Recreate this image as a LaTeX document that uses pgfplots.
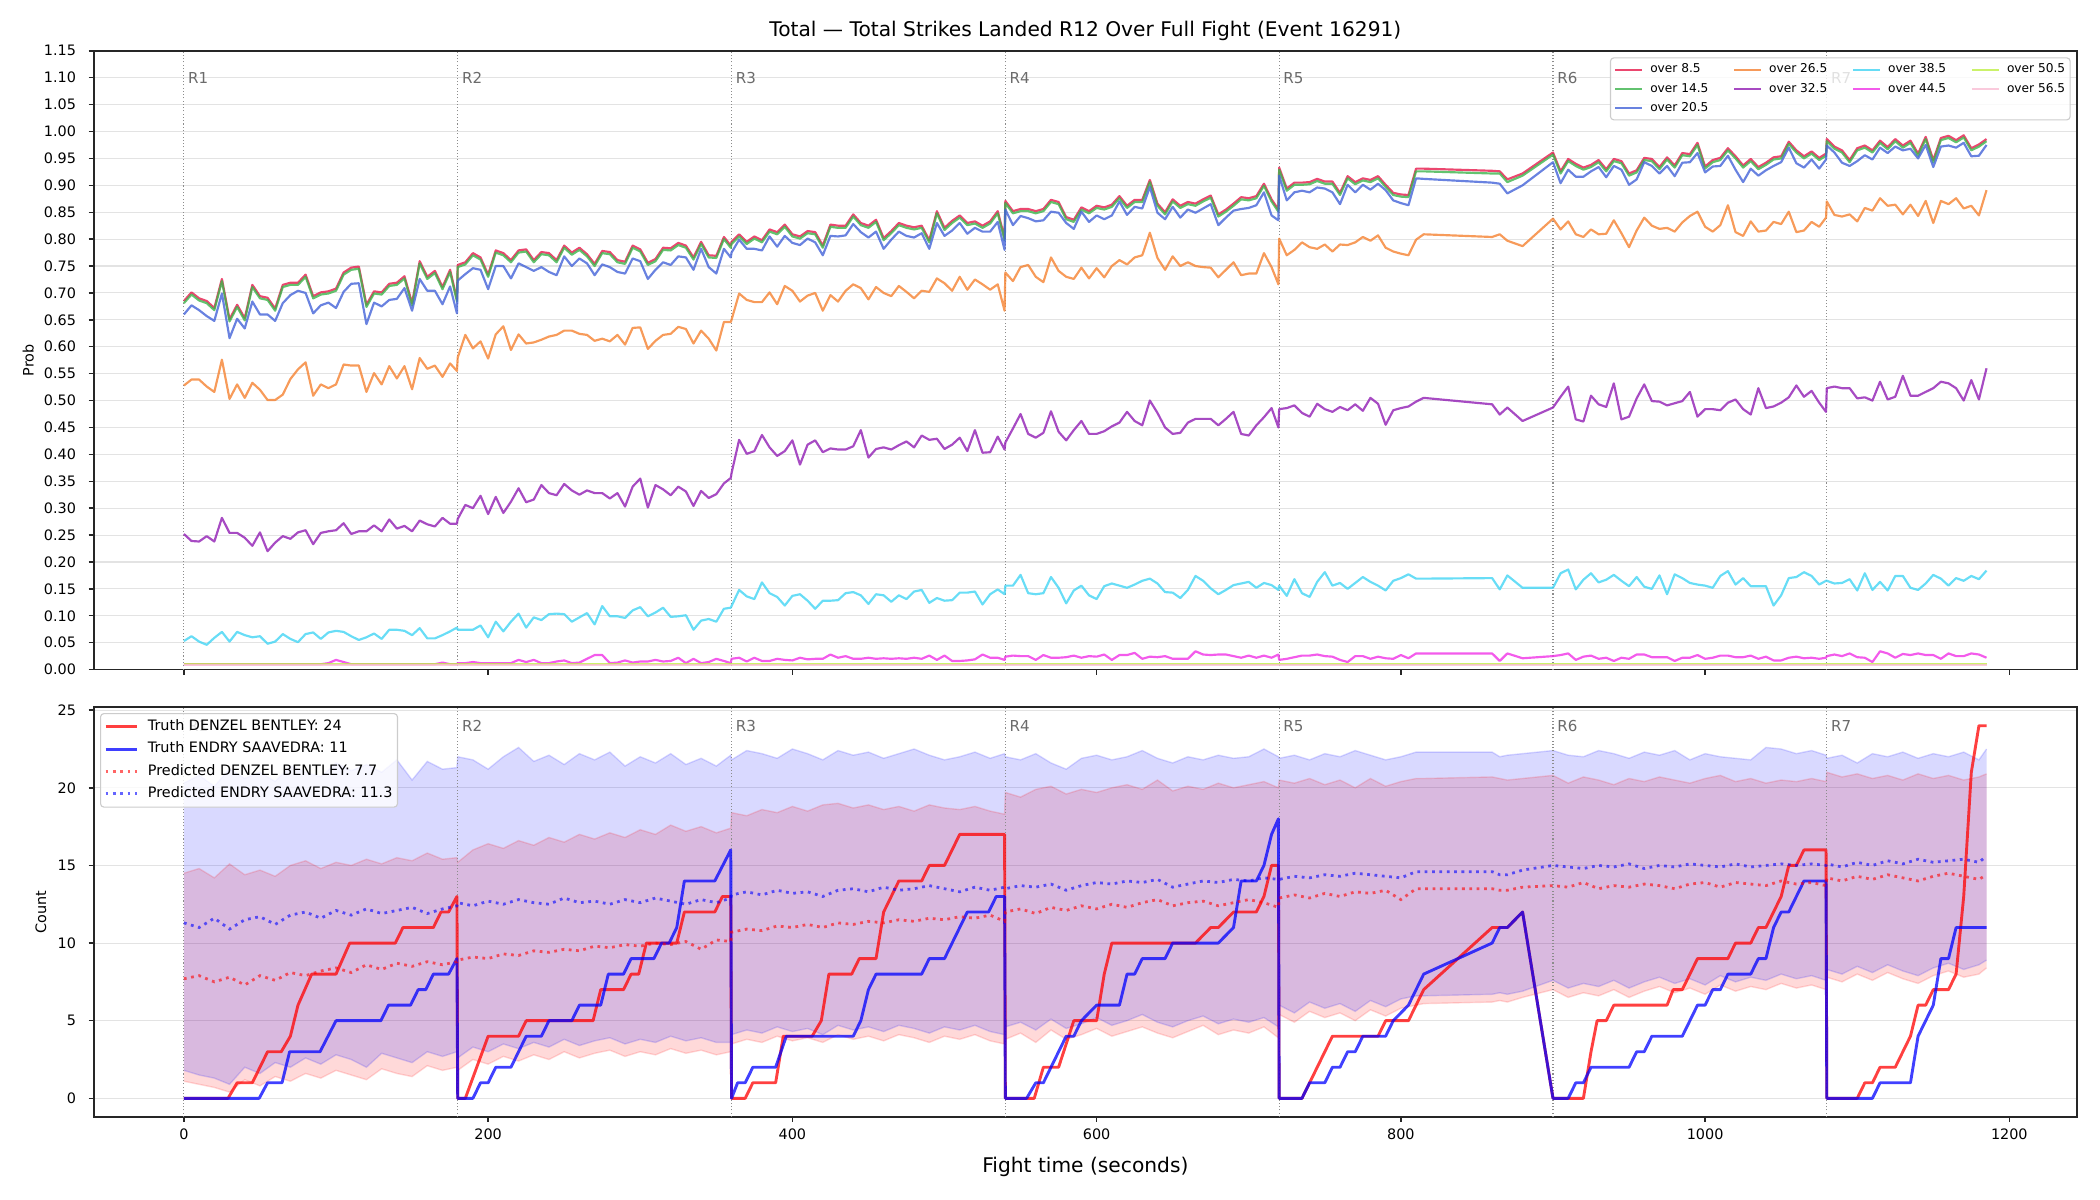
\documentclass[border=0pt]{standalone}
\usepackage{fontspec}
\setmainfont{DejaVu Sans}
\usepackage{pgfplots}
\pgfplotsset{compat=1.18}
\usepackage{pgfplotstable}
\usepgfplotslibrary{fillbetween}

\definecolor{c85}{HTML}{E6194B}
\definecolor{c145}{HTML}{3CB44B}
\definecolor{c205}{HTML}{4363D8}
\definecolor{c265}{HTML}{F58231}
\definecolor{c325}{HTML}{911EB4}
\definecolor{c385}{HTML}{42D4F4}
\definecolor{c445}{HTML}{F032E6}
\definecolor{c505}{HTML}{BFEF45}
\definecolor{c565}{HTML}{FABED4}
\definecolor{tred}{HTML}{FF0000}
\definecolor{tblue}{HTML}{0000FF}
\definecolor{spine}{HTML}{262626}
\definecolor{gridc}{HTML}{E3E3E3}
\definecolor{rlab}{HTML}{6B6B6B}

% probability of each "over" line, sampled every 5 s
% a=8.5 b=14.5 c=20.5 d=26.5 e=32.5 f=38.5 g=44.5
\pgfplotstableread{
t a b c d e f g
0 .685 .681 .660 .528 .252 .053 .010
5 .701 .697 .677 .539 .239 .062 .010
10 .690 .686 .668 .539 .238 .052 .010
15 .685 .681 .657 .526 .248 .046 .010
20 .672 .668 .648 .516 .238 .059 .010
25 .726 .722 .699 .576 .282 .070 .010
30 .651 .647 .616 .503 .254 .052 .010
35 .678 .674 .652 .530 .254 .070 .010
40 .653 .649 .634 .505 .245 .064 .010
45 .715 .711 .684 .533 .230 .060 .010
50 .694 .690 .660 .520 .255 .062 .010
55 .691 .687 .660 .501 .220 .048 .010
60 .671 .667 .648 .501 .236 .052 .010
65 .715 .711 .681 .511 .248 .066 .010
70 .719 .715 .696 .540 .243 .057 .010
75 .719 .715 .704 .558 .255 .051 .010
80 .734 .730 .700 .571 .259 .066 .010
85 .694 .690 .662 .509 .233 .069 .010
90 .701 .697 .677 .530 .254 .057 .010
95 .703 .699 .682 .523 .257 .069 .012
100 .708 .704 .672 .530 .259 .072 .018
105 .738 .734 .702 .567 .272 .070 .014
110 .747 .743 .717 .565 .252 .062 .010
115 .749 .745 .718 .565 .257 .055 .010
120 .678 .674 .642 .516 .257 .060 .010
125 .703 .699 .682 .551 .268 .067 .010
130 .701 .697 .675 .530 .257 .057 .010
135 .717 .713 .687 .564 .279 .074 .010
140 .719 .715 .689 .541 .262 .074 .010
145 .731 .727 .709 .564 .267 .072 .010
150 .681 .677 .667 .521 .257 .064 .010
155 .759 .755 .726 .579 .277 .077 .010
160 .730 .726 .704 .559 .270 .058 .010
165 .741 .737 .704 .565 .266 .058 .010
170 .711 .707 .679 .544 .282 .064 .013
175 .743 .739 .712 .569 .271 .071 .010
179.5 .688 .684 .662 .555 .271 .078 .010
180 .752 .748 .723 .580 .280 .074 .012
185 .757 .753 .735 .622 .306 .074 .012
190 .774 .770 .746 .597 .300 .074 .014
195 .766 .762 .743 .610 .323 .082 .012
200 .734 .730 .707 .578 .289 .060 .012
205 .779 .775 .750 .623 .321 .089 .012
210 .774 .770 .750 .638 .291 .071 .012
215 .761 .757 .727 .594 .312 .089 .012
220 .779 .775 .755 .623 .337 .104 .018
225 .781 .777 .748 .606 .311 .078 .014
230 .761 .757 .741 .608 .316 .097 .018
235 .776 .772 .748 .613 .343 .092 .012
240 .774 .770 .739 .619 .328 .103 .012
245 .761 .757 .733 .622 .324 .104 .015
250 .788 .784 .768 .630 .345 .103 .017
255 .775 .771 .750 .630 .333 .089 .012
260 .784 .780 .764 .624 .325 .097 .013
265 .772 .768 .755 .622 .333 .105 .020
270 .754 .750 .733 .611 .328 .084 .027
275 .778 .774 .753 .615 .328 .118 .027
280 .776 .772 .748 .610 .318 .099 .012
285 .761 .757 .739 .622 .328 .099 .013
290 .758 .754 .736 .604 .303 .096 .017
295 .788 .784 .764 .635 .340 .110 .013
300 .781 .777 .759 .636 .355 .116 .015
305 .756 .752 .726 .596 .301 .099 .015
310 .763 .759 .743 .611 .343 .106 .018
315 .784 .780 .757 .622 .335 .115 .015
320 .783 .779 .752 .624 .324 .098 .016
325 .793 .789 .768 .637 .340 .099 .022
330 .788 .784 .766 .633 .331 .101 .012
335 .766 .762 .743 .606 .304 .074 .020
340 .795 .791 .782 .630 .332 .091 .012
345 .770 .766 .748 .615 .319 .094 .014
350 .769 .765 .736 .593 .326 .089 .020
355 .804 .800 .782 .646 .346 .113 .016
359.5 .788 .784 .766 .646 .356 .115 .012
360 .795 .791 .775 .650 .365 .118 .020
365 .809 .805 .799 .699 .427 .148 .022
370 .795 .791 .782 .687 .401 .136 .015
375 .805 .801 .782 .683 .406 .131 .022
380 .798 .794 .779 .683 .436 .162 .016
385 .818 .814 .805 .701 .413 .142 .016
390 .813 .809 .786 .679 .397 .135 .020
395 .827 .823 .806 .713 .406 .119 .018
400 .809 .805 .793 .704 .426 .137 .017
405 .805 .801 .789 .684 .381 .140 .022
410 .815 .811 .801 .695 .418 .128 .019
415 .813 .809 .794 .700 .426 .113 .020
420 .788 .784 .770 .667 .404 .128 .020
425 .827 .823 .806 .696 .411 .128 .028
430 .825 .821 .805 .684 .409 .129 .022
435 .825 .821 .807 .704 .409 .142 .025
440 .846 .842 .828 .716 .415 .144 .020
445 .830 .826 .813 .709 .445 .138 .020
450 .825 .821 .803 .688 .394 .122 .022
455 .836 .832 .814 .711 .410 .140 .020
460 .802 .798 .782 .700 .413 .138 .021
465 .815 .811 .799 .694 .409 .126 .020
470 .830 .826 .814 .713 .417 .138 .021
475 .825 .821 .806 .702 .424 .131 .020
480 .822 .818 .803 .690 .413 .145 .022
485 .825 .821 .811 .704 .435 .148 .020
490 .798 .794 .782 .702 .427 .124 .026
495 .852 .848 .830 .727 .429 .133 .018
500 .821 .817 .806 .718 .410 .128 .026
505 .834 .830 .816 .704 .418 .129 .016
510 .844 .840 .830 .730 .431 .143 .016
515 .830 .826 .810 .706 .406 .143 .017
520 .833 .829 .821 .725 .445 .145 .019
525 .825 .821 .814 .716 .403 .121 .028
530 .833 .829 .814 .706 .404 .140 .022
535 .852 .848 .832 .716 .433 .149 .022
539.5 .802 .798 .780 .667 .409 .140 .018
540 .871 .867 .855 .738 .422 .156 .024
545 .852 .848 .826 .722 .448 .156 .026
550 .856 .852 .843 .748 .475 .176 .025
555 .856 .852 .839 .752 .438 .142 .025
560 .852 .848 .833 .730 .431 .140 .018
565 .856 .852 .835 .720 .440 .142 .027
570 .873 .869 .851 .766 .480 .172 .022
575 .869 .865 .849 .741 .442 .152 .022
580 .841 .837 .830 .730 .426 .123 .023
585 .836 .832 .819 .726 .445 .147 .026
590 .859 .855 .851 .747 .462 .156 .022
595 .852 .848 .832 .727 .438 .138 .025
600 .862 .858 .844 .746 .438 .131 .024
605 .859 .855 .837 .729 .443 .155 .028
610 .864 .860 .844 .750 .452 .160 .018
615 .880 .876 .870 .761 .459 .156 .027
620 .862 .858 .845 .753 .479 .152 .027
625 .873 .869 .860 .766 .462 .158 .031
630 .873 .869 .857 .770 .454 .165 .020
635 .910 .906 .897 .812 .500 .169 .024
640 .866 .862 .849 .765 .477 .160 .023
645 .850 .846 .837 .743 .450 .144 .025
650 .874 .870 .860 .768 .438 .143 .020
655 .862 .858 .840 .750 .440 .133 .020
660 .869 .865 .855 .757 .459 .148 .020
665 .866 .862 .849 .750 .466 .174 .034
670 .874 .870 .857 .748 .466 .165 .028
675 .881 .877 .865 .747 .466 .151 .027
680 .846 .842 .826 .729 .454 .140 .028
685 .855 .851 .840 .743 .466 .148 .028
690 .866 .862 .853 .757 .479 .157 .025
695 .878 .874 .856 .733 .438 .160 .022
700 .876 .872 .858 .736 .435 .163 .026
705 .880 .876 .863 .736 .454 .152 .022
710 .903 .899 .887 .774 .469 .161 .026
715 .874 .870 .844 .748 .486 .157 .022
719.5 .855 .851 .835 .716 .450 .148 .028
720 .933 .929 .918 .801 .484 .156 .018
725 .894 .890 .872 .770 .486 .137 .020
730 .905 .901 .887 .780 .491 .168 .023
735 .905 .901 .890 .794 .477 .142 .026
740 .906 .902 .887 .785 .470 .135 .026
745 .912 .908 .896 .782 .494 .163 .028
750 .907 .903 .894 .790 .484 .181 .025
755 .907 .903 .887 .777 .479 .156 .024
760 .886 .882 .865 .790 .488 .161 .018
765 .917 .913 .901 .789 .482 .150 .014
770 .906 .902 .887 .794 .493 .161 .025
775 .913 .909 .901 .804 .481 .172 .025
780 .910 .906 .892 .797 .505 .163 .020
785 .917 .913 .903 .807 .494 .156 .024
790 .901 .897 .891 .784 .455 .147 .021
795 .886 .882 .872 .777 .482 .165 .020
800 .883 .879 .867 .773 .486 .170 .027
805 .882 .878 .863 .770 .489 .177 .021
810 .931 .926 .913 .799 .498 .169 .030
815 .931 .926 .912 .809 .505 .169 .030
860 .927 .922 .905 .804 .493 .170 .030
865 .926 .922 .903 .809 .474 .149 .016
870 .911 .906 .885 .797 .487 .175 .030
880 .922 .918 .900 .787 .462 .152 .021
900 .961 .957 .943 .838 .487 .152 .025
905 .926 .922 .904 .818 .507 .179 .027
910 .949 .945 .929 .833 .526 .186 .030
915 .940 .936 .916 .809 .465 .149 .018
920 .933 .929 .916 .804 .461 .167 .024
925 .938 .934 .926 .818 .509 .179 .026
930 .947 .943 .934 .809 .493 .162 .020
935 .930 .926 .915 .810 .488 .167 .022
940 .949 .945 .936 .835 .532 .176 .016
945 .945 .941 .929 .811 .465 .165 .022
950 .922 .918 .901 .785 .470 .155 .020
955 .928 .924 .911 .816 .504 .172 .028
960 .951 .947 .943 .840 .530 .154 .028
965 .949 .945 .936 .825 .499 .150 .023
970 .934 .930 .922 .819 .498 .175 .023
975 .952 .948 .936 .821 .491 .140 .023
980 .937 .933 .917 .814 .495 .177 .016
985 .960 .956 .942 .831 .499 .170 .022
990 .958 .954 .943 .843 .516 .161 .022
995 .979 .975 .960 .851 .470 .158 .027
1000 .935 .931 .924 .823 .484 .156 .020
1005 .947 .943 .935 .814 .484 .152 .022
1010 .951 .947 .936 .826 .482 .174 .026
1015 .969 .965 .955 .863 .496 .183 .026
1020 .954 .950 .929 .813 .502 .158 .023
1025 .937 .933 .906 .806 .484 .170 .023
1030 .949 .945 .931 .833 .474 .155 .026
1035 .934 .930 .918 .814 .523 .155 .020
1040 .942 .938 .928 .816 .486 .155 .024
1045 .952 .948 .936 .832 .489 .119 .017
1050 .954 .950 .943 .828 .496 .138 .017
1055 .981 .977 .970 .851 .506 .170 .022
1060 .965 .961 .941 .813 .528 .172 .024
1065 .954 .950 .933 .816 .507 .181 .021
1070 .963 .959 .948 .832 .518 .174 .022
1075 .951 .947 .931 .823 .496 .158 .020
1079.5 .959 .955 .948 .840 .479 .165 .022
1080 .986 .982 .974 .870 .523 .165 .025
1085 .972 .968 .961 .845 .526 .160 .028
1090 .965 .961 .942 .842 .523 .161 .025
1095 .947 .943 .936 .846 .523 .168 .030
1100 .969 .965 .945 .833 .504 .147 .023
1105 .974 .970 .956 .858 .506 .179 .022
1110 .965 .961 .948 .853 .500 .148 .014
1115 .983 .979 .970 .876 .535 .163 .034
1120 .971 .967 .960 .862 .502 .147 .030
1125 .986 .982 .972 .864 .507 .174 .022
1130 .974 .970 .965 .846 .546 .174 .029
1135 .983 .979 .968 .864 .509 .152 .027
1140 .959 .955 .950 .843 .509 .148 .030
1145 .990 .986 .975 .871 .516 .160 .027
1150 .947 .943 .934 .830 .523 .176 .027
1155 .988 .984 .972 .871 .535 .169 .020
1160 .992 .988 .974 .865 .532 .156 .030
1165 .984 .980 .970 .876 .523 .170 .025
1170 .993 .989 .979 .857 .500 .165 .025
1175 .969 .965 .954 .862 .538 .174 .030
1180 .976 .972 .955 .844 .502 .168 .028
1185 .986 .982 .975 .891 .560 .184 .022
}\probs

% predicted counts and their bands (pr/pb = predicted, lo/hi = band edges)
\pgfplotstableread{
t pr pb rlo rhi blo bhi
0 7.7 11.3 1.1 14.5 1.8 20.3
10 7.9 11.0 0.9 14.8 1.5 20.8
20 7.5 11.6 0.7 14.2 1.3 20.1
30 7.8 10.9 0.4 15.1 0.9 21.2
40 7.3 11.5 1.2 14.4 2.0 20.6
50 7.9 11.7 0.8 14.7 1.6 21.0
60 7.6 11.2 1.4 14.3 2.3 20.4
70 8.1 11.8 1.1 15.0 2.0 21.4
80 7.9 12.0 1.6 15.3 2.6 21.0
90 8.2 11.6 1.3 14.8 2.2 20.7
100 8.4 12.1 1.8 15.2 2.8 21.6
110 8.1 11.8 1.5 15.0 2.5 21.1
120 8.6 12.2 1.2 15.4 2.0 21.5
130 8.3 11.9 1.9 15.1 2.9 21.0
140 8.7 12.1 1.6 15.5 2.6 21.8
150 8.5 12.3 1.4 15.3 2.3 20.5
160 8.8 11.9 2.1 15.8 3.0 21.7
170 8.6 12.2 1.8 15.4 2.7 21.2
179.5 8.8 12.4 2.0 15.5 3.0 21.3
180 8.9 12.6 1.8 15.2 2.6 22.0
190 9.1 12.4 2.5 16.0 3.3 21.8
200 9.0 12.7 2.2 16.4 3.0 21.2
210 9.3 12.5 2.7 16.1 3.5 22.0
220 9.2 12.8 2.4 16.6 3.2 22.6
230 9.5 12.6 2.8 16.3 3.6 21.7
240 9.4 12.5 2.5 16.8 3.3 22.1
250 9.6 12.9 3.0 16.5 3.8 21.5
260 9.5 12.6 2.6 17.0 3.4 22.2
270 9.8 12.7 2.9 16.7 3.7 21.8
280 9.7 12.5 3.1 17.1 3.9 22.3
290 9.9 12.8 2.7 16.8 3.5 21.4
300 9.8 12.6 3.0 17.3 3.8 22.0
310 10.0 12.9 2.8 17.0 3.6 21.6
320 9.9 12.7 3.2 17.6 4.0 22.2
330 10.1 12.5 2.9 17.2 3.7 21.5
340 9.6 12.8 3.1 17.5 3.9 21.9
350 10.2 12.6 2.8 17.1 3.6 21.4
359.5 10.1 12.9 3.0 17.4 3.6 22.1
360 10.7 13.1 3.5 18.4 4.1 21.8
370 10.9 13.3 3.8 18.2 4.4 22.4
380 10.8 13.1 3.6 18.6 4.2 22.2
390 11.1 13.4 4.0 18.4 4.6 21.9
400 11.0 13.2 3.7 18.8 4.3 22.5
410 11.2 13.3 3.9 18.5 4.5 22.2
420 11.0 13.0 3.6 18.9 4.1 21.8
430 11.3 13.4 4.1 19.0 4.7 22.4
440 11.2 13.5 3.8 18.7 4.4 22.1
450 11.4 13.3 4.0 18.9 4.6 22.3
460 11.3 13.6 3.7 18.6 4.3 21.9
470 11.5 13.4 4.1 18.8 4.7 22.2
480 11.4 13.5 3.9 18.5 4.5 22.5
490 11.6 13.7 3.6 18.9 4.2 22.1
500 11.5 13.5 4.0 18.7 4.6 21.8
510 11.7 13.3 3.8 18.6 4.4 22.0
520 11.6 13.6 4.1 18.8 4.7 22.3
530 11.8 13.4 3.7 18.5 4.3 21.9
539.5 11.4 13.6 3.5 18.3 4.1 22.2
540 12.0 13.5 3.8 19.7 4.6 22.0
550 12.2 13.7 4.2 19.4 4.9 21.8
560 11.9 13.6 3.6 19.9 4.4 22.2
570 12.3 13.8 4.4 20.1 5.1 21.6
580 12.1 13.4 3.8 19.6 4.5 21.2
590 12.4 13.7 4.1 19.9 4.8 21.9
600 12.2 13.9 4.5 19.7 5.2 22.1
610 12.5 13.8 4.0 20.0 4.7 21.8
620 12.3 14.0 4.3 20.2 5.0 22.0
630 12.6 13.9 4.6 19.9 5.4 22.4
640 12.8 14.1 4.2 20.5 4.9 21.9
650 12.4 13.6 3.9 19.8 4.6 21.6
660 12.6 13.8 4.3 20.1 5.0 22.0
670 12.7 14.0 4.7 19.9 5.3 21.8
680 12.4 13.9 4.1 20.3 4.8 22.1
690 12.6 14.1 4.4 20.0 5.1 21.9
700 12.8 14.0 4.2 20.2 4.9 22.0
710 12.6 14.2 4.6 20.4 5.2 22.5
719.5 12.3 14.1 3.9 20.0 4.6 22.0
720 12.9 14.1 5.4 20.5 6.0 21.9
730 13.1 14.3 4.9 20.3 5.5 22.1
740 12.9 14.2 5.6 20.6 6.2 21.8
750 13.2 14.4 5.2 20.2 5.8 22.2
760 13.0 14.3 5.5 20.5 6.1 22.0
770 13.3 14.5 5.0 20.0 5.6 22.4
780 13.2 14.4 5.7 20.6 6.3 22.1
790 13.4 14.3 5.3 20.1 5.9 21.8
800 12.8 14.2 5.8 20.4 6.4 22.0
810 13.5 14.6 6.0 20.6 6.6 22.3
815 13.5 14.6 6.1 20.6 6.6 22.3
860 13.5 14.6 6.2 20.7 6.7 22.3
865 13.4 14.4 6.3 20.6 6.8 22.0
870 13.4 14.4 6.2 20.5 6.7 22.1
880 13.6 14.7 6.5 20.6 6.9 22.2
900 13.7 15.0 7.0 20.8 7.6 22.4
910 13.6 14.9 6.5 20.3 7.1 22.1
920 13.9 14.8 6.8 20.7 7.4 22.0
930 13.5 15.0 6.6 20.5 7.2 22.4
940 13.7 14.9 7.0 20.2 7.6 22.2
950 13.6 15.1 6.5 20.6 7.1 21.9
960 13.8 14.8 6.9 20.4 7.5 22.3
970 13.7 15.0 7.2 20.7 7.8 22.1
980 13.5 14.9 6.8 20.5 7.4 22.4
990 13.8 15.1 7.1 20.3 7.7 21.8
1000 13.9 15.0 6.7 20.6 7.3 22.2
1010 13.6 14.9 7.3 20.8 7.9 22.0
1020 13.9 15.1 6.9 20.4 7.5 21.9
1030 13.8 14.9 7.2 20.6 7.8 21.8
1040 13.7 15.0 7.0 20.3 7.6 22.6
1050 14.0 15.1 7.4 20.5 8.0 22.5
1060 13.8 15.0 7.1 20.4 7.7 22.2
1070 13.9 15.1 7.3 20.6 7.9 22.4
1079.5 13.7 15.0 7.0 20.4 7.6 22.1
1080 14.2 15.1 7.8 21.0 8.3 21.9
1090 14.0 14.9 7.5 20.7 8.0 22.1
1100 14.3 15.2 8.0 20.9 8.5 21.6
1110 14.1 15.0 7.6 20.6 8.1 22.2
1120 14.4 15.3 8.1 20.8 8.6 22.0
1130 14.2 15.1 7.7 20.5 8.2 22.3
1140 14.0 15.4 7.4 20.9 7.9 21.9
1150 14.3 15.2 7.9 20.6 8.4 22.2
1160 14.5 15.3 8.2 20.8 8.7 22.0
1170 14.3 15.4 7.8 20.5 8.3 22.3
1180 14.1 15.2 8.0 20.7 8.6 21.8
1185 14.4 15.6 8.4 20.9 8.9 22.5
}\counts

\pgfplotsset{
  panel/.style={
    scale only axis, width=1427.9bp,
    xmin=-59.26, xmax=1244.46,
    axis line style={spine, line width=1.2bp},
    tick align=outside, xtick pos=left, ytick pos=left,
    major tick length=3.64bp,
    major tick style={spine, line width=1bp},
    ymajorgrids, grid style={gridc, line width=0.8bp},
    tick label style={font=\fontsize{10.4}{12.5}\selectfont, text=black},
    yticklabel style={inner sep=0pt, xshift=-9bp},
    xticklabel style={inner sep=0pt, yshift=-5bp},
    xtick={0,200,400,600,800,1000,1200},
    legend cell align=left,
  },
  roundline/.style={black!45, line width=0.75bp, dash pattern=on 0.75bp off 1.6bp, forget plot},
  probline/.style={line width=1.56bp, opacity=0.8, line join=round, forget plot},
}
\tikzset{
  rlabel/.style={anchor=west, inner sep=0pt, xshift=2.9bp, text=rlab, font=\fontsize{10.9}{13}\selectfont},
}

\begin{document}
\begin{tikzpicture}

% ---------------- probability panel ----------------
\begin{axis}[panel,
  at={(67.5bp,381.9bp)}, anchor=south west, height=445.5bp,
  ymin=0, ymax=1.15,
  ytick={0,0.05,0.1,0.15,0.2,0.25,0.3,0.35,0.4,0.45,0.5,0.55,0.6,0.65,0.7,0.75,0.8,0.85,0.9,0.95,1,1.05,1.1,1.15},
  yticklabels={0.00,0.05,0.10,0.15,0.20,0.25,0.30,0.35,0.40,0.45,0.50,0.55,0.60,0.65,0.70,0.75,0.80,0.85,0.90,0.95,1.00,1.05,1.10,1.15},
  xticklabels={,,,,,,},
  title={Total — Total Strikes Landed R12 Over Full Fight (Event 16291)},
  title style={at={(axis description cs:0.5,1)}, anchor=base, yshift=4.5bp, inner sep=0pt, font=\fontsize{14.6}{17}\selectfont},
  ylabel={Prob},
  ylabel style={at={(axis description cs:-0.033,0.5)}, anchor=center, inner sep=0pt, font=\fontsize{10.4}{12.5}\selectfont},
  legend columns=4,
  legend image code/.code={\draw[#1] (0bp,0bp) -- (19.2bp,0bp);},
  legend style={at={(1,1)}, anchor=north east, xshift=-4.5bp, yshift=-4.7bp,
    draw=black!20, line width=0.8bp, fill=white, fill opacity=0.8, draw opacity=1, text opacity=1,
    rounded corners=2.4bp, inner xsep=2.6bp, inner ysep=3bp, row sep=2.8bp,
    font=\fontsize{8.8}{10.5}\selectfont,
    nodes={inner xsep=1bp, inner ysep=1bp, text height=6.8bp, text depth=2.2bp},
    /tikz/every odd column/.append style={column sep=4.3bp},
    /tikz/every even column/.append style={column sep=16.7bp}},
]
\addplot[roundline] coordinates {(0,0) (0,1.15)};
\addplot[roundline] coordinates {(180,0) (180,1.15)};
\addplot[roundline] coordinates {(360,0) (360,1.15)};
\addplot[roundline] coordinates {(540,0) (540,1.15)};
\addplot[roundline] coordinates {(720,0) (720,1.15)};
\addplot[roundline] coordinates {(900,0) (900,1.15)};
\addplot[roundline] coordinates {(1080,0) (1080,1.15)};

\addplot[c85,  probline] table[x=t, y=a] {\probs};
\addplot[c145, probline] table[x=t, y=b] {\probs};
\addplot[c205, probline] table[x=t, y=c] {\probs};
\addplot[c265, probline] table[x=t, y=d] {\probs};
\addplot[c325, probline] table[x=t, y=e] {\probs};
\addplot[c385, probline] table[x=t, y=f] {\probs};
\addplot[c445, probline] table[x=t, y=g] {\probs};
\addplot[c505, probline] coordinates {(0,0.010) (1185,0.010)};
\addplot[c565, probline] coordinates {(0,0.009) (1185,0.009)};

\node[rlabel] at (axis cs:0,1.099) {R1};
\node[rlabel] at (axis cs:180,1.099) {R2};
\node[rlabel] at (axis cs:360,1.099) {R3};
\node[rlabel] at (axis cs:540,1.099) {R4};
\node[rlabel] at (axis cs:720,1.099) {R5};
\node[rlabel] at (axis cs:900,1.099) {R6};
\node[rlabel] at (axis cs:1080,1.099) {R7};

% legend laid out column by column
\addlegendimage{c85, line width=1.56bp, opacity=0.8}\addlegendentry{over 8.5}
\addlegendimage{c265, line width=1.56bp, opacity=0.8}\addlegendentry{over 26.5}
\addlegendimage{c385, line width=1.56bp, opacity=0.8}\addlegendentry{over 38.5}
\addlegendimage{c505, line width=1.56bp, opacity=0.8}\addlegendentry{over 50.5}
\addlegendimage{c145, line width=1.56bp, opacity=0.8}\addlegendentry{over 14.5}
\addlegendimage{c325, line width=1.56bp, opacity=0.8}\addlegendentry{over 32.5}
\addlegendimage{c445, line width=1.56bp, opacity=0.8}\addlegendentry{over 44.5}
\addlegendimage{c565, line width=1.56bp, opacity=0.8}\addlegendentry{over 56.5}
\addlegendimage{c205, line width=1.56bp, opacity=0.8}\addlegendentry{over 20.5}
\end{axis}

% ---------------- count panel ----------------
\begin{axis}[panel,
  at={(67.5bp,59.8bp)}, anchor=south west, height=295.1bp,
  ymin=-1.2, ymax=25.2,
  ytick={0,5,10,15,20,25}, yticklabels={0,5,10,15,20,25},
  xticklabels={0,200,400,600,800,1000,1200},
  xlabel={Fight time (seconds)},
  xlabel style={at={(axis description cs:0.5,0)}, anchor=base, yshift=-40bp, inner sep=0pt, font=\fontsize{14.6}{17}\selectfont},
  ylabel={Count},
  ylabel style={at={(axis description cs:-0.0267,0.5)}, anchor=center, inner sep=0pt, font=\fontsize{10.4}{12.5}\selectfont},
  legend image code/.code={\draw[#1] (0bp,0bp) -- (22.8bp,0bp);},
  legend style={at={(0,1)}, anchor=north west, xshift=4.5bp, yshift=-4.3bp,
    draw=black!20, line width=0.8bp, fill=white, fill opacity=0.8, draw opacity=1, text opacity=1,
    rounded corners=2.4bp, inner xsep=2.6bp, inner ysep=3bp, row sep=3.1bp,
    font=\fontsize{10.4}{12.5}\selectfont,
    nodes={inner xsep=1bp, inner ysep=1.5bp, text height=7.6bp, text depth=2.4bp},
    /tikz/every odd column/.append style={column sep=5.6bp}},
]
% uncertainty bands
\addplot[name path=rlo, tred, draw opacity=0.15, line width=1bp, forget plot] table[x=t, y=rlo] {\counts};
\addplot[name path=rhi, tred, draw opacity=0.15, line width=1bp, forget plot] table[x=t, y=rhi] {\counts};
\addplot[fill=tred, fill opacity=0.15, draw=none, forget plot] fill between[of=rhi and rlo];
\addplot[name path=blo, tblue, draw opacity=0.15, line width=1bp, forget plot] table[x=t, y=blo] {\counts};
\addplot[name path=bhi, tblue, draw opacity=0.15, line width=1bp, forget plot] table[x=t, y=bhi] {\counts};
\addplot[fill=tblue, fill opacity=0.15, draw=none, forget plot] fill between[of=bhi and blo];

\addplot[roundline] coordinates {(0,-1.2) (0,25.2)};
\addplot[roundline] coordinates {(180,-1.2) (180,25.2)};
\addplot[roundline] coordinates {(360,-1.2) (360,25.2)};
\addplot[roundline] coordinates {(540,-1.2) (540,25.2)};
\addplot[roundline] coordinates {(720,-1.2) (720,25.2)};
\addplot[roundline] coordinates {(900,-1.2) (900,25.2)};
\addplot[roundline] coordinates {(1080,-1.2) (1080,25.2)};

% running totals
\addplot[tred, line width=2.08bp, opacity=0.75, line join=round] coordinates {
(0,0) (29,0) (35,1) (45,1) (55,3) (64,3) (70,4) (75,6) (84,8) (100,8) (109,10) (139,10) (144,11) (164,11) (169,12) (174,12) (179.5,13)
(180,0) (185,0) (200,4) (220,4) (225,5) (269,5) (274,7) (289,7) (294,8) (299,8) (304,10) (324,10) (329,12) (349,12) (354,13) (359.5,13)
(360,0) (369,0) (374,1) (389,1) (394,4) (413,4) (419,5) (424,8) (439,8) (444,9) (455,9) (460,12) (470,14) (485,14) (490,15) (500,15) (510,17) (539.5,17)
(540,0) (559,0) (565,2) (575,2) (585,5) (600,5) (605,8) (610,10) (665,10) (675,11) (680,11) (690,12) (705,12) (710,13) (715,15) (719.5,15)
(720,0) (735,0) (755,4) (785,4) (790,5) (805,5) (815,7) (860,11) (870,11) (880,12)
(900,0) (920,0) (925,3) (929,5) (935,5) (940,6) (975,6) (979,7) (985,7) (995,9) (1015,9) (1020,10) (1030,10) (1035,11) (1040,11) (1050,13) (1055,15) (1060,15) (1065,16) (1079.5,16)
(1080,0) (1100,0) (1105,1) (1110,1) (1115,2) (1125,2) (1135,4) (1140,6) (1145,6) (1150,7) (1160,7) (1165,8) (1170,13) (1175,21) (1180,24) (1185,24)};
\addlegendentry{Truth DENZEL BENTLEY: 24}
\addplot[tblue, line width=2.08bp, opacity=0.75, line join=round] coordinates {
(0,0) (49.5,0) (55,1) (64.5,1) (69.5,3) (89.5,3) (100,5) (129.5,5) (134.5,6) (149,6) (154,7) (159,7) (164,8) (174,8) (179.5,9)
(180,0) (190,0) (195,1) (200,1) (205,2) (215,2) (225,4) (235,4) (240,5) (255,5) (260,6) (274,6) (279,8) (289,8) (294,9) (309,9) (314,10) (319,10) (324,11) (329,14) (349,14) (359.5,16)
(360,0) (364,1) (369,1) (374,2) (389,2) (396,4) (440,4) (445,5) (450,7) (455,8) (485,8) (490,9) (500,9) (515,12) (529,12) (534,13) (539.5,13)
(540,0) (554,0) (560,1) (565,1) (570,2) (575,3) (580,4) (585,4) (590,5) (600,6) (615,6) (620,8) (625,8) (630,9) (645,9) (650,10) (680,10) (690,11) (695,14) (705,14) (710,15) (715,17) (719.5,18)
(720,0) (735,0) (740,1) (750,1) (755,2) (760,2) (765,3) (770,3) (775,4) (790,4) (795,5) (805,6) (815,8) (860,10) (865,11) (870,11) (880,12)
(900,0) (910,0) (915,1) (920,1) (925,2) (950,2) (955,3) (960,3) (965,4) (985,4) (995,6) (1000,6) (1005,7) (1010,7) (1015,8) (1030,8) (1035,9) (1040,9) (1045,11) (1050,12) (1055,12) (1065,14) (1079.5,14)
(1080,0) (1110,0) (1115,1) (1135,1) (1140,4) (1150,6) (1155,9) (1160,9) (1165,11) (1185,11)};
\addlegendentry{Truth ENDRY SAAVEDRA: 11}
\addplot[tred, line width=2bp, opacity=0.6, dash pattern=on 2bp off 3.3bp] table[x=t, y=pr] {\counts};
\addlegendentry{Predicted DENZEL BENTLEY: 7.7}
\addplot[tblue, line width=2bp, opacity=0.6, dash pattern=on 2bp off 3.3bp] table[x=t, y=pb] {\counts};
\addlegendentry{Predicted ENDRY SAAVEDRA: 11.3}

\node[rlabel] at (axis cs:0,24) {R1};
\node[rlabel] at (axis cs:180,24) {R2};
\node[rlabel] at (axis cs:360,24) {R3};
\node[rlabel] at (axis cs:540,24) {R4};
\node[rlabel] at (axis cs:720,24) {R5};
\node[rlabel] at (axis cs:900,24) {R6};
\node[rlabel] at (axis cs:1080,24) {R7};
\end{axis}

% page frame
\path (0,0) rectangle (1512bp,864bp);
\end{tikzpicture}
\end{document}
